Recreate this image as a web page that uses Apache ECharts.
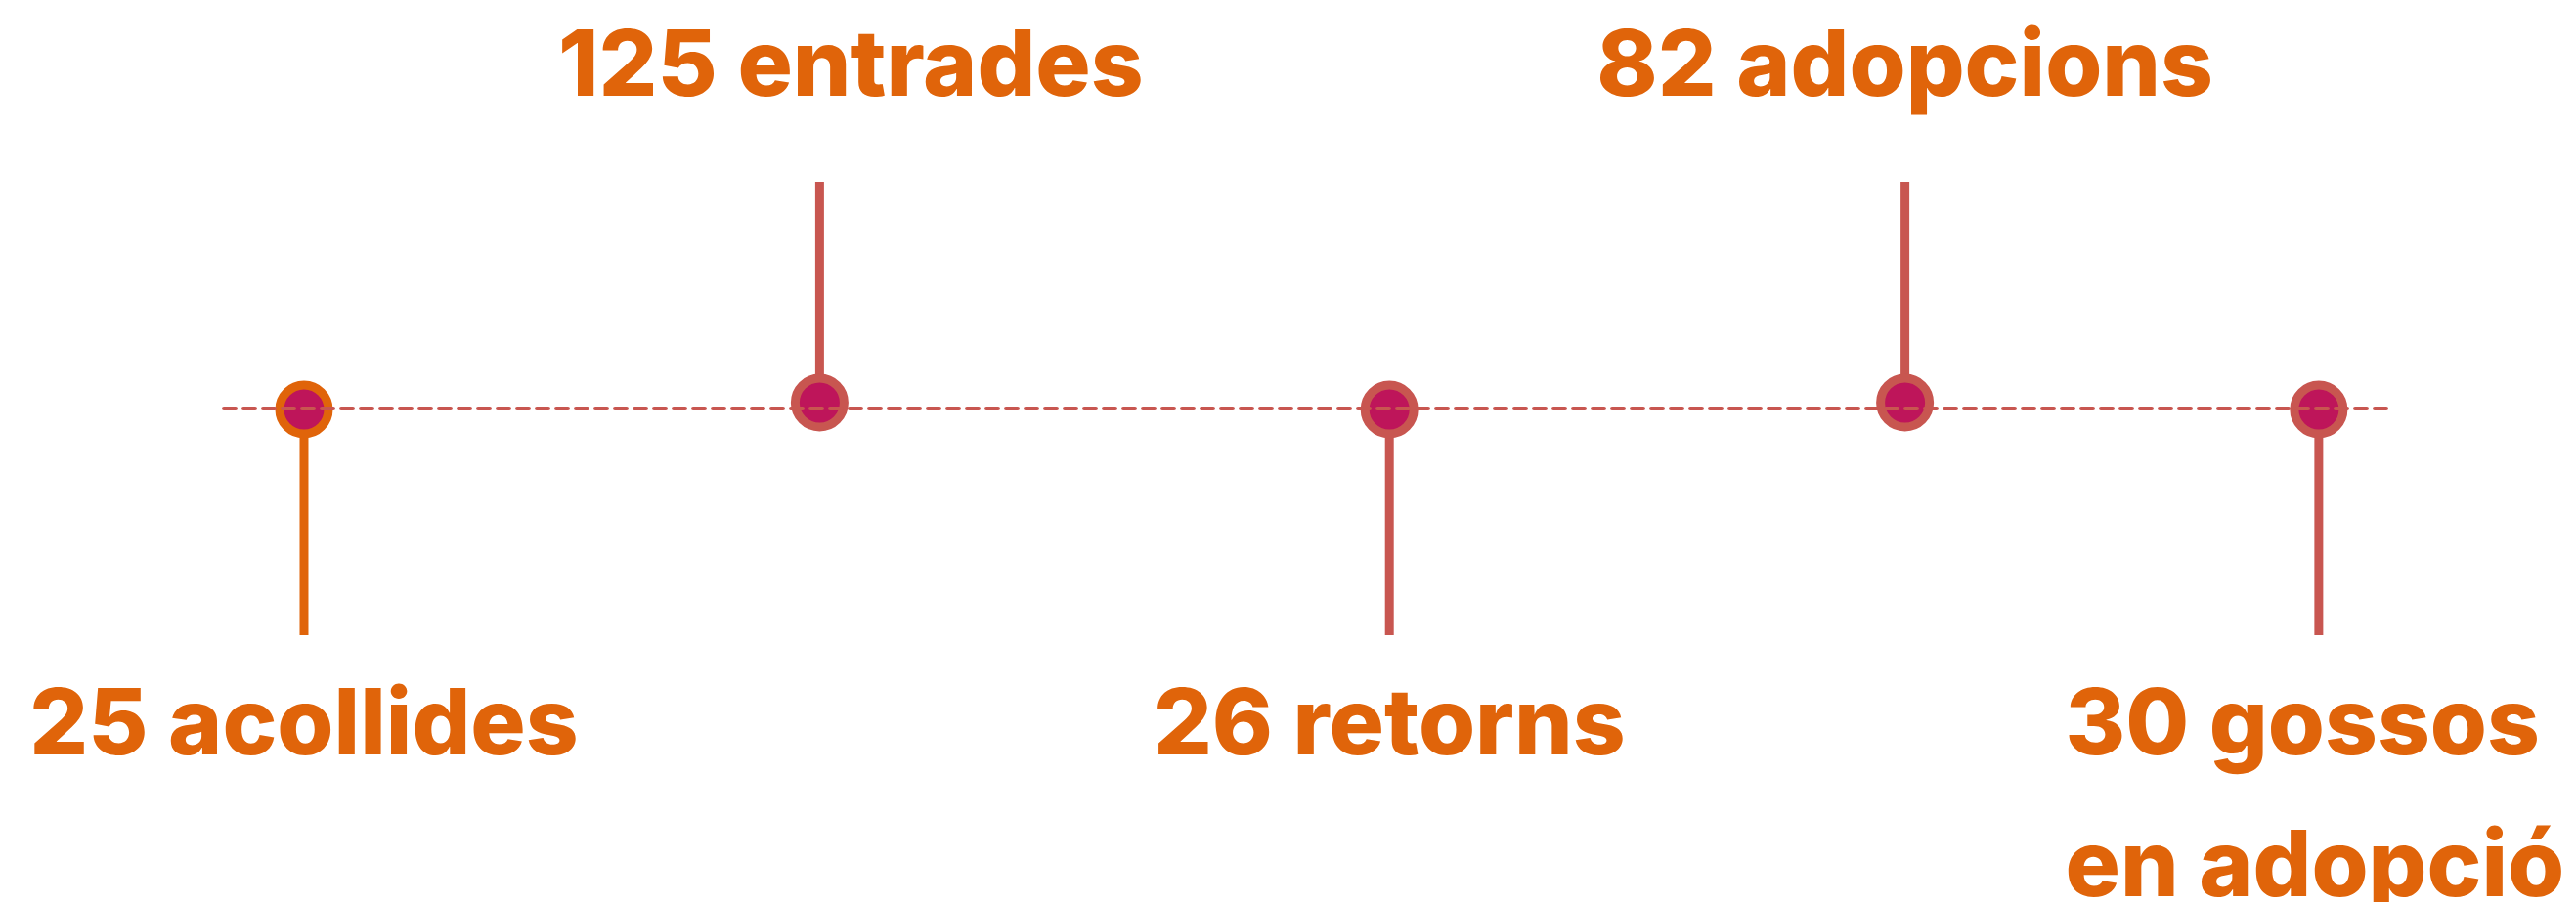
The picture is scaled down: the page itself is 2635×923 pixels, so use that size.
<!DOCTYPE html>
<html>
<head>
<meta charset="utf-8">
<script src="https://cdn.jsdelivr.net/npm/echarts@6/dist/echarts.min.js"></script>
<style>
html,body{margin:0;padding:0;background:#fff;}
#chart{width:2635px;height:923px;}
</style>
</head>
<body>
<div id="chart"></div>
<script>
// Data
const counts = [25, 125, 26, 82, 30];
const names = ['acollides', 'entrades', 'retorns', 'adopcions', 'gossos\nen adopció'];
const positions = [3.7, 27.5, 53.8, 77.6, 96.7];   // position along the timeline (0-100)
const directions = [-1, 1, -1, 1, -1];              // stem goes up (1) or down (-1)

const ORANGE = '#e0640a';
const RED = '#c85650';
const MAGENTA = '#be155a';

const stemColors = counts.map((c, i) => i === 0 ? ORANGE : RED);
const labelShiftX = [0, 32, 0, 0, -4];

function labelText(i) {
  return names[i].split('\n').map((line, k) => '{t|' + (k === 0 ? counts[i] + ' ' : '') + line + '}').join('\n');
}

const stemData = counts.map((c, i) => ({
  value: [positions[i], directions[i]],
  itemStyle: { color: stemColors[i] },
  label: {
    show: true,
    position: directions[i] > 0 ? 'top' : 'bottom',
    distance: directions[i] > 0 ? 44 : 21,
    offset: [labelShiftX[i], 0],
    formatter: labelText(i)
  }
}));

const dotData = counts.map((c, i) => ({
  value: [positions[i], 0],
  symbolOffset: [0, directions[i] > 0 ? -6 : 1],
  itemStyle: { color: MAGENTA, borderColor: stemColors[i], borderWidth: 9, opacity: 1 }
}));

const chart = echarts.init(document.getElementById('chart'), null, { renderer: 'canvas' });
chart.setOption({
  backgroundColor: '#ffffff',
  animation: false,
  grid: { left: 229, right: 190, top: 186, bottom: 273 },
  xAxis: {
    type: 'value', min: 0, max: 100, z: 10,
    axisLine: { show: true, onZero: true, lineStyle: { color: RED, width: 4, type: [12, 8], cap: 'round' } },
    axisTick: { show: false }, axisLabel: { show: false }, splitLine: { show: false }
  },
  yAxis: {
    type: 'value', min: -1, max: 1, show: false,
    splitLine: { show: false }
  },
  series: [
    {
      type: 'bar',
      barWidth: 9,
      data: stemData,
      label: {
        color: ORANGE,
        fontFamily: 'Inter',
        fontWeight: 800,
        fontSize: 94,
        lineHeight: 145,
        align: 'center',
        rich: {
          t: { color: ORANGE, fontFamily: 'Inter', fontWeight: 800, fontSize: 94, lineHeight: 145, align: 'left' }
        }
      },
      z: 2
    },
    {
      type: 'scatter',
      symbol: 'circle',
      symbolSize: 50,
      data: dotData,
      emphasis: { disabled: true },
      z: 3
    }
  ]
});
</script>
</body>
</html>
